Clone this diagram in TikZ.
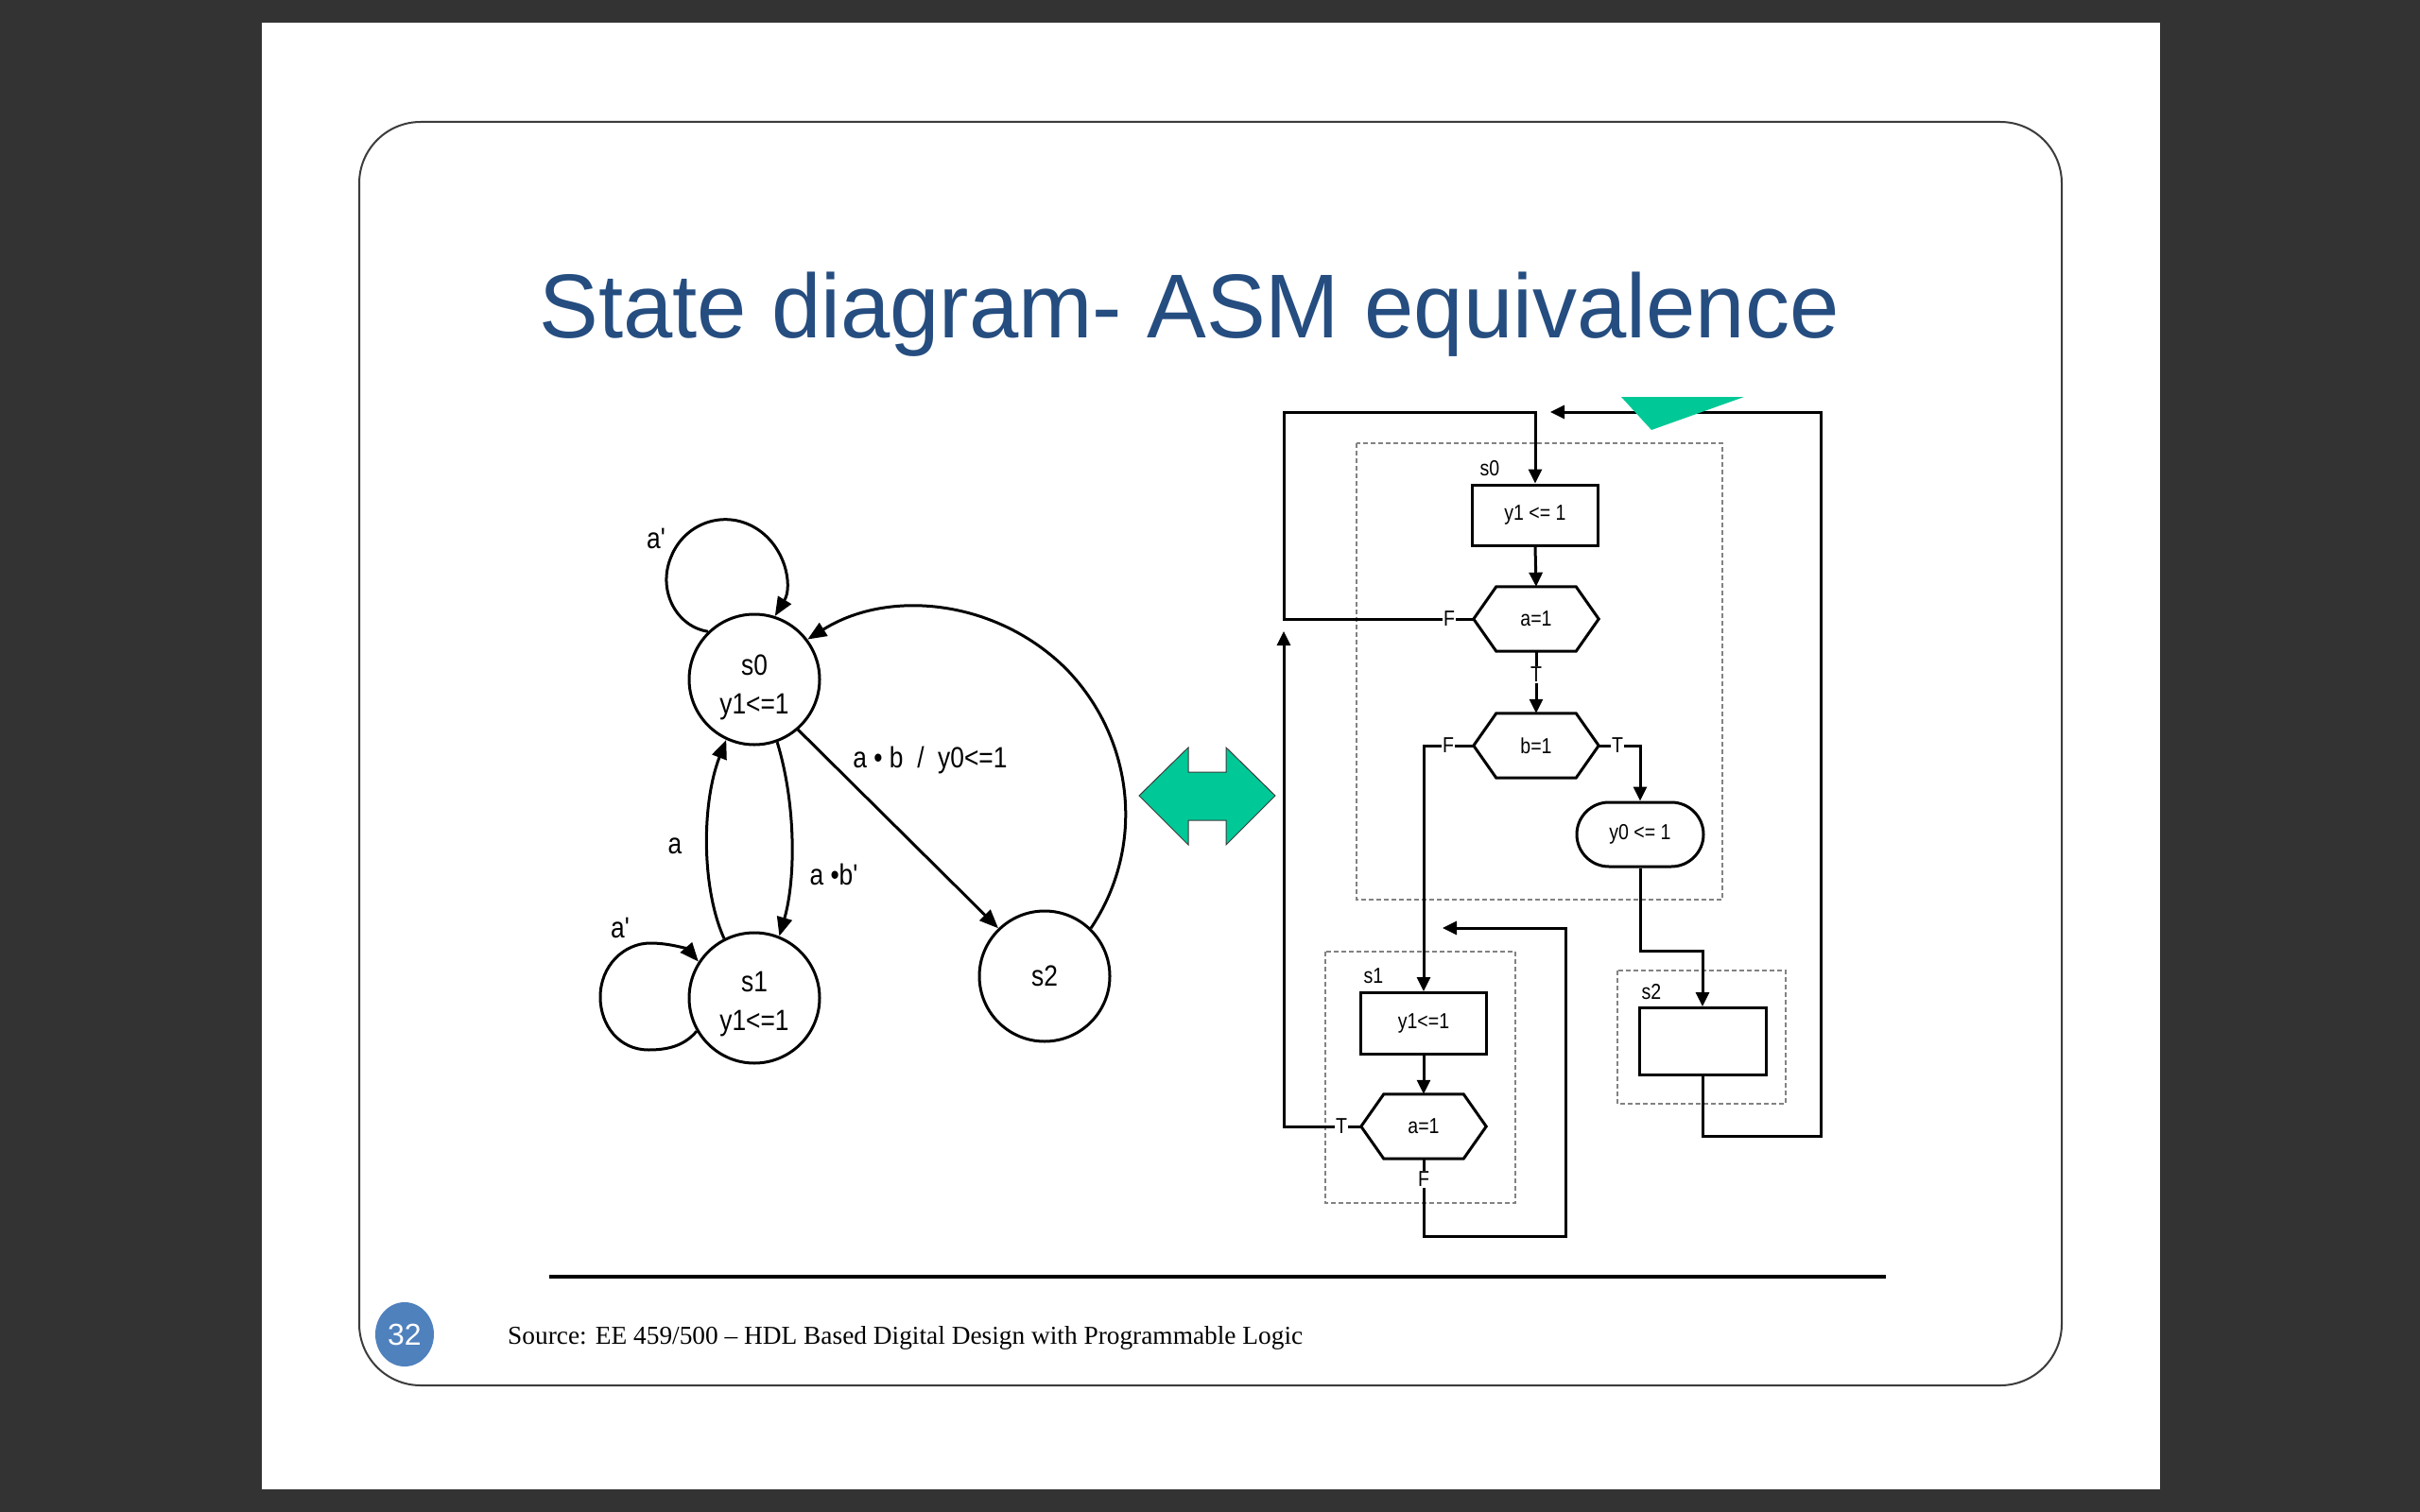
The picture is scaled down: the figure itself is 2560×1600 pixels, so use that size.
\documentclass[tikz,border=0pt]{standalone}
\usepackage{fontspec}
\usetikzlibrary{arrows.meta,shapes.geometric}
\newfontfamily\nf[FakeStretch=0.85]{Liberation Sans}
\newfontfamily\titlefont[FakeStretch=0.98]{Liberation Sans}
\newfontfamily\pnfont{Liberation Sans}
\newfontfamily\srcfont{Liberation Serif}
\definecolor{bgdark}{RGB}{51,51,51}
\definecolor{titleblue}{RGB}{37,77,128}
\definecolor{pnblue}{RGB}{79,129,189}
\definecolor{arrgreen}{RGB}{0,201,151}
\definecolor{framegray}{RGB}{60,60,60}
\definecolor{dashgray}{RGB}{130,130,130}
\newcommand\drawhex[1]{\draw[boxline] (#1.west) -- ([xshift=24pt]#1.north west) -- ([xshift=-24pt]#1.north east) -- (#1.east) -- ([xshift=-24pt]#1.south east) -- ([xshift=24pt]#1.south west) -- cycle;}
\begin{document}
\begin{tikzpicture}[x=1pt,y=-1pt,
 state/.style={circle, draw, line width=3pt, minimum size=138pt, inner sep=0pt},
 stext/.style={align=center, inner sep=0pt, font=\nf\fontsize{31}{41}\selectfont},
 sarr/.style={line width=3pt, -{Triangle[length=20pt,width=16pt]}},
 slbl/.style={font=\nf\fontsize{31}{34}\selectfont, inner sep=0pt},
 boxline/.style={line width=3pt},
 abox/.style={draw, line width=3pt, inner sep=0pt, font=\nf\fontsize{23}{26}\selectfont},
 hexnode/.style={inner sep=0pt, font=\nf\fontsize{23}{26}\selectfont},
 aarr/.style={line width=3pt, -{Triangle[length=15pt,width=14pt]}},
 alb/.style={font=\nf\fontsize{23}{26}\selectfont, fill=white, inner sep=1pt},
 stlbl/.style={font=\nf\fontsize{23}{26}\selectfont, inner sep=0pt},
 dbox/.style={draw=dashgray, line width=1.6pt, dash pattern=on 5pt off 3pt}]
\useasboundingbox (0,0) rectangle (2560,1600);
% background and slide
\fill[bgdark] (0,0) rectangle (2560,1600);
\fill[white] (277,24) rectangle (2285,1576);
\draw[framegray, line width=2pt, rounded corners=65pt] (380,129) rectangle (2181,1466);
% title
\node[anchor=base, inner sep=0pt, text=titleblue, font=\titlefont\fontsize{96}{100}\selectfont] (title) at (1258,357) {State diagram- ASM equivalence};
% footer
\draw[line width=4pt] (581,1351) -- (1995,1351);
\node[ellipse, fill=pnblue, minimum width=62pt, minimum height=68pt, inner sep=0pt, text=white, font=\pnfont\fontsize{32}{34}\selectfont] (pn) at (428,1412) {32};
\node[anchor=base west, inner sep=0pt, font=\srcfont\fontsize{30}{32}\selectfont] (src) at (537,1422) {\resizebox{841pt}{!}{Source: EE 459/500 – HDL Based Digital Design with Programmable Logic}};
% ---------------- state diagram ----------------
\node[state] (s0) at (798,719) {};
\node[state] (s1) at (798,1056) {};
\node[state] (s2) at (1105,1033) {};
\node[stext] (t0) at (798,727) {s0\\y1<=1};
\node[stext] (t1) at (798,1063) {s1\\y1<=1};
\node[stext] (t2) at (1105,1033) {s2};
\draw[sarr] (s0.134) .. controls (715,663) and (695,624) .. (710,589) .. controls (724,554) and (765,539) .. (798,558) .. controls (831,577) and (839,620) .. (s0.72);
\draw[sarr] (s1.210) .. controls (725,1105) and (710,1111) .. (686,1111) .. controls (655,1111) and (635,1085) .. (635,1055) .. controls (635,1022) and (660,998) .. (688,998) .. controls (710,998) and (728,1005) .. (s1.147);
\draw[sarr] (s1.117) .. controls (742,940) and (742,850) .. (s0.245);
\draw[sarr] (s0.290) .. controls (842,850) and (842,930) .. (s1.68);
\draw[sarr] (s0.311) -- (s2.134);
\draw[sarr] (s2.46) .. controls (1212,896) and (1200,782) .. (1128,708) .. controls (1055,635) and (941,622) .. (s0.37);
\node[slbl] (la1) at (694,570) {a'};
\node[slbl] (la2) at (656,982) {a'};
\node[slbl] (la3) at (714,895) {a};
\node[slbl] (la4) at (882,925) {a •b'};
\node[slbl] (la5) at (984,804) {a • b \ / \ y0<=1};
% ---------------- double arrow ----------------
\filldraw[fill=arrgreen, draw=framegray, line width=1pt] (1205,842) -- (1257,791) -- (1257,817) -- (1297,817) -- (1297,791) -- (1349,842) -- (1297,894) -- (1297,868) -- (1257,868) -- (1257,894) -- cycle;
% ---------------- ASM chart ----------------
\draw[dbox] (1435,469) rectangle (1822,952);
\draw[dbox] (1402,1007) rectangle (1603,1273);
\draw[dbox] (1711,1027) rectangle (1889,1168);
\node[stlbl] (ls0) at (1576,496) {s0};
\node[stlbl] (ls1) at (1453,1033) {s1};
\node[stlbl] (ls2) at (1747,1050) {s2};
\node[abox, minimum width=133pt, minimum height=64pt] (b0) at (1624,545) {y1 <= 1};
\node[hexnode, minimum width=132pt, minimum height=68pt] (hA) at (1625,655) {a=1};
\node[hexnode, minimum width=132pt, minimum height=68pt] (hB) at (1625,789) {b=1};
\node[abox, minimum width=134pt, minimum height=68pt, rounded corners=34pt] (yo) at (1735,883) {y0 <= 1};
\node[abox, minimum width=134pt, minimum height=71pt] (b2) at (1801,1102) {};
\node[abox, minimum width=133pt, minimum height=65pt] (b1) at (1506,1083) {y1<=1};
\node[hexnode, minimum width=132pt, minimum height=68pt] (hC) at (1506,1192) {a=1};
\drawhex{hA}
\drawhex{hB}
\drawhex{hC}
\coordinate (L1) at (1358,436);
\coordinate (tip0) at (1640,436);
\coordinate (c2) at (1735,1006);
\coordinate (c3) at (1926,1202);
\coordinate (tip1) at (1358,668);
\coordinate (c4) at (1656,1308);
\coordinate (tip2) at (1526,982);
\draw[aarr] (hA.west) -| (L1) -| (b0.north);
\draw[aarr] (b0.south) -- (hA.north);
\draw[aarr] (hA.south) -- (hB.north);
\draw[aarr] (hB.west) -| (b1.north);
\draw[aarr] (hB.east) -| (yo.north);
\draw[aarr] (yo.south) -- (c2) -| (b2.north);
\draw[aarr] (b2.south) |- (c3) |- (tip0);
\draw[aarr] (b1.south) -- (hC.north);
\draw[aarr] (hC.west) -| (tip1);
\draw[aarr] (hC.south) |- (c4) |- (tip2);
\node[alb] (fA) at (1533,655) {F};
\node[alb] (tA) at (1625,714) {T};
\node[alb] (fB) at (1532,789) {F};
\node[alb] (tB) at (1711,789) {T};
\node[alb] (tC) at (1419,1192) {T};
\node[alb] (fC) at (1506,1248) {F};
\fill[arrgreen] (1715,420) -- (1845,420) -- (1747,455) -- cycle;
\end{tikzpicture}
\end{document}
